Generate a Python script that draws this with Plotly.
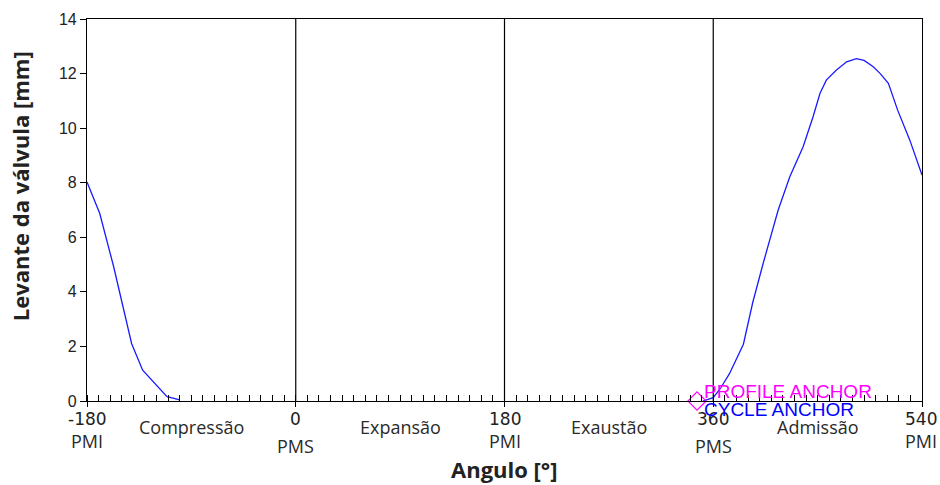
import plotly.graph_objects as go

# Data
comp_angle = [-180, -169, -157, -141.5, -132, -111, -100]
comp_lift = [8.03, 6.87, 4.92, 2.1, 1.13, 0.16, 0.04]

adm_angle = [351, 360, 366, 374, 386, 394, 403, 412, 416, 426, 437.5, 446, 452, 457.5, 466, 475,
             483.5, 490, 498, 504, 511, 519, 529.5, 540]
adm_lift = [0.0, 0.12, 0.45, 1.0, 2.08, 3.6, 5.04, 6.38, 7.0, 8.22, 9.32, 10.41, 11.27, 11.76, 12.12, 12.43,
            12.55, 12.48, 12.25, 12.0, 11.64, 10.66, 9.56, 8.28]

tick_vals = [-180, 0, 180, 360, 540]
tick_text = ["-180", "0", "180", "360", "540"]
dead_center = ["PMI", "PMS", "PMI", "PMS", "PMI"]
phase_pos = [-90, 90, 270, 450]
phase_names = ["Compressão", "Expansão", "Exaustão", "Admissão"]
anchor_angle = [346]
anchor_lift = [0]

fig = go.Figure()
fig.add_trace(go.Scatter(x=comp_angle, y=comp_lift, mode="lines",
                         line=dict(color="#1a1aff", width=1.3), showlegend=False))
fig.add_trace(go.Scatter(x=adm_angle, y=adm_lift, mode="lines",
                         line=dict(color="#1a1aff", width=1.3), showlegend=False))
fig.add_trace(go.Scatter(x=anchor_angle, y=anchor_lift, mode="markers",
                         marker=dict(symbol="diamond-open", size=14, color="#ff00ff", line=dict(width=1.2)),
                         showlegend=False, cliponaxis=False))

for v in [0, 180, 360]:
    fig.add_shape(type="line", x0=v, x1=v, y0=0, y1=14, xref="x", yref="y",
                  line=dict(color="black", width=1.2))

# x tick numbers as annotations (precise placement)
num_font = dict(family="DejaVu Sans, Verdana, sans-serif", size=17, color="#222")
lab_font = dict(family="Open Sans, Noto Sans, sans-serif", size=18, color="#2a2a2a")
last = len(tick_vals) - 1
for i, (v, t, d) in enumerate(zip(tick_vals, tick_text, dead_center)):
    kw = dict(xanchor="right", xshift=17) if i == last else dict(xanchor="center")
    fig.add_annotation(x=v, y=-0.046, xref="x", yref="paper", text=t, showarrow=False,
                       font=num_font, yanchor="middle", **kw)
    yy = -0.118 if d == "PMS" else -0.104
    fig.add_annotation(x=v, y=yy, xref="x", yref="paper", text=d, showarrow=False,
                       font=lab_font, yanchor="middle", **kw)
for v, t in zip(phase_pos, phase_names):
    fig.add_annotation(x=v, y=-0.068, xref="x", yref="paper", text=t, showarrow=False,
                       font=lab_font, yanchor="middle")

anchor_font = "Liberation Sans, Arial, sans-serif"
fig.add_annotation(x=350, y=0.026, xref="x", yref="paper", text="PROFILE ANCHOR", showarrow=False,
                   xanchor="left", yanchor="middle",
                   font=dict(family=anchor_font, size=19, color="#ff00ff"))
fig.add_annotation(x=350, y=-0.021, xref="x", yref="paper", text="CYCLE ANCHOR", showarrow=False,
                   xanchor="left", yanchor="middle",
                   font=dict(family=anchor_font, size=19, color="#0000ff"))

title_font = dict(family="Open Sans, Noto Sans, sans-serif", size=22, color="#222")
fig.add_annotation(x=180, y=-0.178, xref="x", yref="paper", text="<b>Angulo [°]</b>",
                   showarrow=False, yanchor="middle", font=title_font)
fig.add_annotation(x=-0.080, y=0.563, xref="paper", yref="paper", text="<b>Levante da válvula [mm]</b>",
                   showarrow=False, textangle=-90, xanchor="center", yanchor="middle", font=title_font)

fig.update_layout(
    width=940, height=485,
    margin=dict(l=87, r=18, t=19, b=84),
    paper_bgcolor="white", plot_bgcolor="white",
    xaxis=dict(range=[-180, 540], tickvals=tick_vals, showticklabels=False, automargin=False,
               ticks="outside", ticklen=5, tickcolor="black", tickwidth=1.2,
               showline=True, linecolor="black", linewidth=1.2, mirror=True,
               showgrid=False, zeroline=False,
               minor=dict(ticks="inside", dtick=10, tick0=-180, ticklen=6, tickcolor="black", tickwidth=1.2)),
    yaxis=dict(range=[0, 14], dtick=2, ticks="outside", ticklen=6, tickcolor="black", tickwidth=1.2,
               showline=True, linecolor="black", linewidth=1.2, mirror=True, automargin=False,
               showgrid=False, zeroline=False,
               tickfont=dict(family="Liberation Sans, Arial, sans-serif", size=16, color="#222")),
)

# remove the page's default body margin so the figure fills the window exactly
fig.write_html("out.html", config={"displayModeBar": False},
               post_script="document.body.style.margin='0';document.body.style.overflow='hidden';")
